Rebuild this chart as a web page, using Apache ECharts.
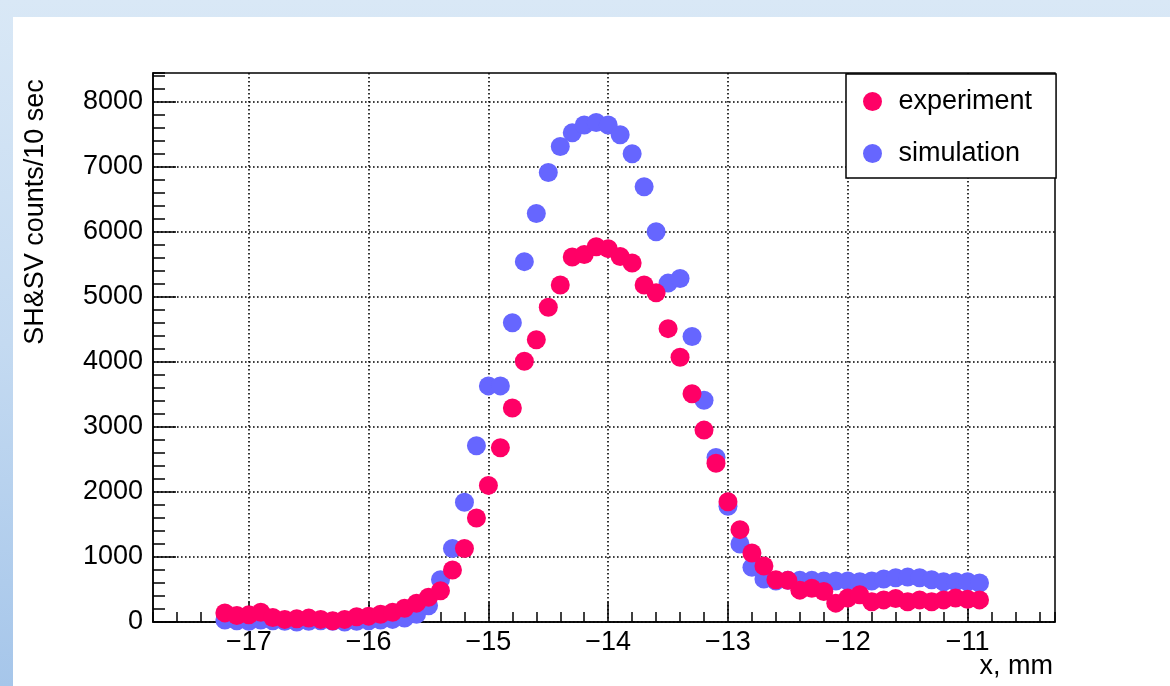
<!DOCTYPE html>
<html>
<head>
<meta charset="utf-8">
<script src="https://cdn.jsdelivr.net/npm/echarts@6/dist/echarts.min.js"></script>
<style>
  html, body { margin: 0; padding: 0; }
  body {
    width: 1170px; height: 686px; overflow: hidden; position: relative;
    background: linear-gradient(to bottom, #d9e8f6 0%, #c4daf1 50%, #a6c6ea 100%);
  }
  #panel { position: absolute; left: 13px; top: 17px; right: 0; bottom: 0; background: #fff; }
  #chart { position: absolute; left: 0; top: 0; width: 1170px; height: 686px; }
</style>
</head>
<body>
<div id="panel"></div>
<div id="chart"></div>
<script>
// bin positions, mm
const xPos = [
  -17.2, -17.1, -17.0, -16.9, -16.8, -16.7, -16.6, -16.5, -16.4, -16.3,
  -16.2, -16.1, -16.0, -15.9, -15.8, -15.7, -15.6, -15.5, -15.4, -15.3,
  -15.2, -15.1, -15.0, -14.9, -14.8, -14.7, -14.6, -14.5, -14.4, -14.3,
  -14.2, -14.1, -14.0, -13.9, -13.8, -13.7, -13.6, -13.5, -13.4, -13.3,
  -13.2, -13.1, -13.0, -12.9, -12.8, -12.7, -12.6, -12.5, -12.4, -12.3,
  -12.2, -12.1, -12.0, -11.9, -11.8, -11.7, -11.6, -11.5, -11.4, -11.3,
  -11.2, -11.1, -11.0, -10.9,
];

// counts per 10 sec
const expCounts = [
  140, 100, 110, 150, 70, 40, 50, 60, 40, 20,
  40, 80, 90, 120, 150, 210, 290, 380, 480, 800,
  1130, 1600, 2100, 2680, 3290, 4010, 4340, 4840, 5180, 5610,
  5650, 5770, 5740, 5620, 5520, 5180, 5060, 4510, 4070, 3510,
  2950, 2440, 1850, 1420, 1060, 860, 650, 640, 490, 520,
  470, 290, 370, 420, 310, 340, 360, 310, 340, 310,
  340, 370, 350, 340,
];

const simCounts = [
  30, 20, 10, 30, 20, 10, 0, 10, 20, 10,
  0, 10, 20, 30, 40, 60, 120, 250, 650, 1130,
  1840, 2710, 3630, 3630, 4600, 5540, 6280, 6910, 7310, 7520,
  7640, 7680, 7640, 7490, 7200, 6690, 6000, 5210, 5280, 4390,
  3410, 2530, 1780, 1200, 840, 660, 630, 640, 640, 640,
  630, 630, 630, 620, 630, 660, 680, 690, 680, 650,
  620, 620, 620, 600,
];

const xTicks = [-17, -16, -15, -14, -13, -12, -11];
const xTickLabels = ["\u221217", "\u221216", "\u221215", "\u221214", "\u221213", "\u221212", "\u221211"];
const yTicks = [0, 1000, 2000, 3000, 4000, 5000, 6000, 7000, 8000];
const yTickLabels = ["0", "1000", "2000", "3000", "4000", "5000", "6000", "7000", "8000"];

const FONT = '"Liberation Sans", Arial, sans-serif';
const X_MIN = -17.8;
const X_MAX = -10.27;
const Y_MAX = 8440;

const myChart = echarts.init(document.getElementById("chart"));

const dottedGrid = {
  show: true,
  lineStyle: { color: "#000", width: 1.6, type: [1.6, 2.4] },
};

const options = {
  animation: false,
  grid: {
    left: 153,
    right: 115,
    top: 73,
    bottom: 64,
    show: true,
    borderColor: "#000",
    borderWidth: 1.5,
    backgroundColor: "transparent",
    outerBoundsMode: "none",
  },
  legend: {
    data: ["experiment", "simulation"],
    orient: "vertical",
    left: 846,
    top: 74,
    padding: [14, 24, 11, 17],
    itemWidth: 42,
    itemHeight: 19,
    itemGap: 25,
    icon: "circle",
    backgroundColor: "#fff",
    borderColor: "#000",
    borderWidth: 1.5,
    textStyle: { fontFamily: FONT, fontSize: 27, color: "#000" },
  },
  xAxis: [
    // major ticks, labels, grid
    {
      type: "value",
      position: "bottom",
      min: X_MIN,
      max: X_MAX,
      axisLine: { show: true, lineStyle: { color: "#000", width: 1.5 } },
      axisTick: {
        show: true,
        inside: true,
        length: 20,
        customValues: xTicks,
        lineStyle: { color: "#000", width: 1.5 },
      },
      axisLabel: {
        customValues: xTicks,
        margin: 7,
        color: "#000",
        fontFamily: FONT,
        fontSize: 27,
        formatter: (v) => xTickLabels[xTicks.indexOf(Math.round(v))],
      },
      splitLine: dottedGrid,
    },
    // minor ticks
    {
      type: "value",
      position: "bottom",
      min: X_MIN,
      max: X_MAX,
      interval: 0.2,
      axisLine: { show: false },
      axisTick: { show: true, inside: true, length: 10, lineStyle: { color: "#000", width: 1.5 } },
      axisLabel: { show: false },
      splitLine: { show: false },
    },
  ],
  yAxis: [
    {
      type: "value",
      position: "left",
      min: 0,
      max: Y_MAX,
      axisLine: { show: true, lineStyle: { color: "#000", width: 1.5 } },
      axisTick: {
        show: true,
        inside: true,
        length: 23,
        customValues: yTicks,
        lineStyle: { color: "#000", width: 1.5 },
      },
      axisLabel: {
        customValues: yTicks,
        margin: 10,
        color: "#000",
        fontFamily: FONT,
        fontSize: 27,
        formatter: (v) => yTickLabels[yTicks.indexOf(Math.round(v))],
      },
      splitLine: dottedGrid,
    },
    {
      type: "value",
      position: "left",
      min: 0,
      max: Y_MAX,
      interval: 200,
      axisLine: { show: false },
      axisTick: { show: true, inside: true, length: 12, lineStyle: { color: "#000", width: 1.5 } },
      axisLabel: { show: false },
      splitLine: { show: false },
    },
  ],
  graphic: [
    {
      type: "text",
      x: 36,
      y: 212,
      rotation: Math.PI / 2,
      style: {
        text: "SH&SV counts/10 sec",
        font: "27px " + FONT,
        fill: "#000",
        align: "center",
        verticalAlign: "middle",
      },
    },
    {
      type: "text",
      x: 1053,
      y: 667,
      style: {
        text: "x, mm",
        font: "27px " + FONT,
        fill: "#000",
        align: "right",
        verticalAlign: "middle",
      },
    },
  ],
  series: [
    // simulation drawn first so experiment sits on top
    {
      name: "simulation",
      type: "scatter",
      xAxisIndex: 0,
      yAxisIndex: 0,
      symbol: "circle",
      symbolSize: 19,
      itemStyle: { color: "#6666ff", opacity: 1 },
      data: xPos.map((x, i) => [x, simCounts[i]]),
    },
    {
      name: "experiment",
      type: "scatter",
      xAxisIndex: 0,
      yAxisIndex: 0,
      symbol: "circle",
      symbolSize: 19,
      itemStyle: { color: "#ff0066", opacity: 1 },
      data: xPos.map((x, i) => [x, expCounts[i]]),
    },
  ],
};

myChart.setOption(options);
</script>
</body>
</html>
